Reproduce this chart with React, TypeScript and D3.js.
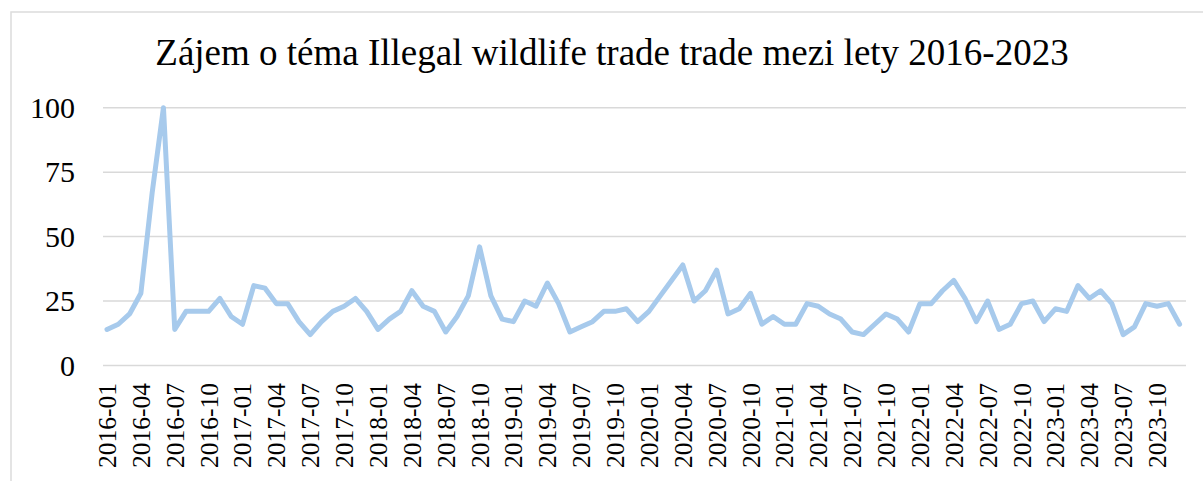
import React from "react";
import * as d3 from "d3";

const title = "Zájem o téma Illegal wildlife trade trade mezi lety 2016-2023";

const years = [2016, 2017, 2018, 2019, 2020, 2021, 2022, 2023];

const months = years.flatMap((y) =>
  d3.range(1, 13).map((m) => `${y}-${String(m).padStart(2, "0")}`)
);

const values = [
  14, 16, 20, 28, 67, 100, 14, 21, 21, 21, 26, 19,
  16, 31, 30, 24, 24, 17, 12, 17, 21, 23, 26, 21,
  14, 18, 21, 29, 23, 21, 13, 19, 27, 46, 27, 18,
  17, 25, 23, 32, 24, 13, 15, 17, 21, 21, 22, 17,
  21, 27, 33, 39, 25, 29, 37, 20, 22, 28, 16, 19,
  16, 16, 24, 23, 20, 18, 13, 12, 16, 20, 18, 13,
  24, 24, 29, 33, 26, 17, 25, 14, 16, 24, 25, 17,
  22, 21, 31, 26, 29, 24, 12, 15, 24, 23, 24, 16,
];

const yTicks = [0, 25, 50, 75, 100];

const W = 1203;
const H = 481;

export default function App() {
  const x = d3.scaleLinear().domain([0, months.length - 1]).range([107, 1179.6]);
  const y = d3.scaleLinear().domain([0, 100]).range([365.5, 107.7]);
  const line = d3
    .line<number>()
    .x((_, i) => x(i))
    .y((d) => y(d));

  const serif = "'Liberation Serif', 'Times New Roman', serif";

  return (
    <svg
      width={W}
      height={H}
      style={{ position: "absolute", left: 0, top: 0, background: "#fff" }}
      fontFamily={serif}
    >
      <rect x={11} y={12} width={W} height={H} fill="#fff" stroke="#dcdcdc" strokeWidth={1.5} />
      <text x={612} y={65} textAnchor="middle" fontSize={37} fill="#000">
        {title}
      </text>
      {yTicks.map((t) => (
        <g key={t}>
          <line x1={103} x2={1186} y1={y(t)} y2={y(t)} stroke="#d9d9d9" strokeWidth={1.5} />
          <text x={75} y={y(t) + 10} textAnchor="end" fontSize={30} fill="#000">
            {t}
          </text>
        </g>
      ))}
      <path
        d={line(values) ?? ""}
        fill="none"
        stroke="#a7caec"
        strokeWidth={5}
        strokeLinejoin="round"
        strokeLinecap="round"
      />
      {months.map((m, i) =>
        i % 3 === 0 ? (
          <text
            key={m}
            transform={`translate(${x(i) + 9},383) rotate(-90)`}
            textAnchor="end"
            fontSize={25.5}
            fill="#000"
          >
            {m}
          </text>
        ) : null
      )}
    </svg>
  );
}
